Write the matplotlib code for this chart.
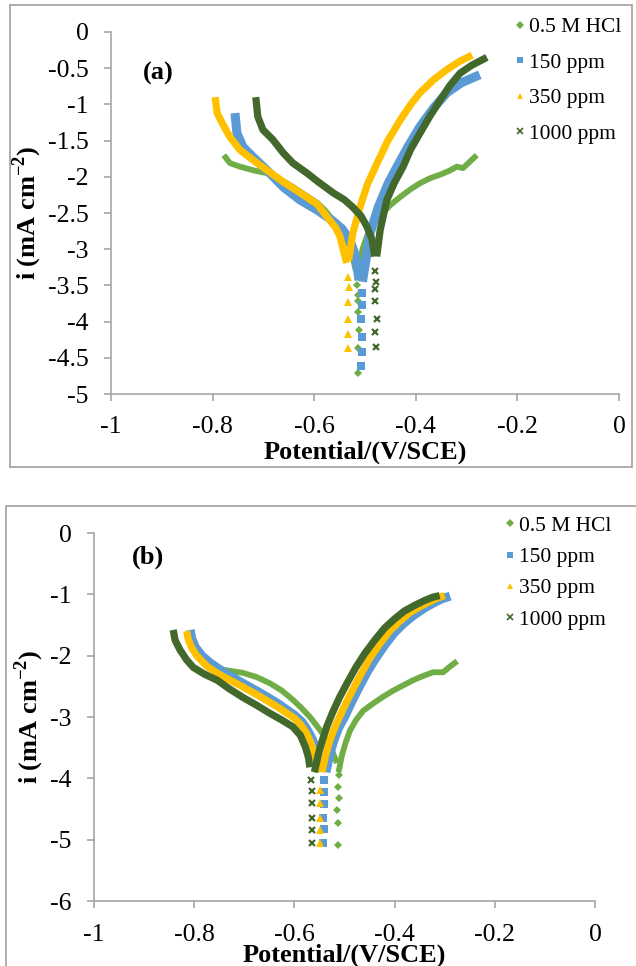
import numpy as np
import matplotlib as mpl
mpl.use('Agg')
import matplotlib.pyplot as plt
from matplotlib.lines import Line2D
from matplotlib.patches import Rectangle

# ---- data: potential (V/SCE), log current ----
labels = ['0.5 M HCl', '150 ppm', '350 ppm', '1000 ppm']
colors = ['#70AD47', '#5B9BD5', '#FFC000', '#43682B']
markers = ['D', 's', '^', 'x']

# panel (a)
a_hcl_cat_E = [-0.778, -0.766, -0.746, -0.720, -0.693, -0.670, -0.642, -0.618, -0.594, -0.578, -0.563, -0.548, -0.535, -0.526, -0.518]
a_hcl_cat_i = [-1.70, -1.81, -1.86, -1.91, -1.95, -2.02, -2.14, -2.25, -2.36, -2.47, -2.60, -2.73, -2.87, -3.05, -3.30]
a_hcl_tail_E = [-0.515, -0.514, -0.513, -0.513, -0.512, -0.513, -0.514]
a_hcl_tail_i = [-3.50, -3.63, -3.72, -3.87, -4.12, -4.36, -4.71]
a_hcl_an_E = [-0.512, -0.505, -0.495, -0.480, -0.465, -0.450, -0.431, -0.410, -0.392, -0.372, -0.352, -0.335, -0.319, -0.307, -0.295, -0.280]
a_hcl_an_i = [-3.30, -3.00, -2.80, -2.62, -2.50, -2.39, -2.28, -2.17, -2.09, -2.02, -1.97, -1.92, -1.86, -1.88, -1.80, -1.70]

a_150_cat_E = [-0.756, -0.752, -0.740, -0.720, -0.693, -0.661, -0.628, -0.594, -0.565, -0.545, -0.530, -0.518, -0.512]
a_150_cat_i = [-1.12, -1.40, -1.59, -1.73, -1.91, -2.14, -2.32, -2.46, -2.60, -2.72, -2.87, -3.10, -3.43]
a_150_tail_E = [-0.506, -0.506, -0.507, -0.506, -0.506, -0.507]
a_150_tail_i = [-3.61, -3.77, -3.96, -4.21, -4.42, -4.61]
a_150_an_E = [-0.505, -0.497, -0.490, -0.474, -0.455, -0.437, -0.415, -0.392, -0.365, -0.339, -0.310, -0.274]
a_150_an_i = [-3.45, -3.10, -2.78, -2.42, -2.10, -1.86, -1.58, -1.31, -1.05, -0.84, -0.70, -0.59]

a_350_cat_E = [-0.795, -0.791, -0.781, -0.766, -0.746, -0.720, -0.693, -0.661, -0.628, -0.594, -0.575, -0.558, -0.549, -0.543, -0.536]
a_350_cat_i = [-0.90, -1.12, -1.26, -1.45, -1.63, -1.77, -1.91, -2.07, -2.22, -2.38, -2.55, -2.70, -2.83, -3.00, -3.19]
a_350_tail_E = [-0.533, -0.532, -0.534, -0.533, -0.534, -0.533]
a_350_tail_i = [-3.38, -3.52, -3.73, -3.96, -4.17, -4.36]
a_350_an_E = [-0.532, -0.524, -0.510, -0.495, -0.476, -0.455, -0.431, -0.410, -0.392, -0.365, -0.339, -0.315, -0.289]
a_350_an_i = [-3.15, -2.78, -2.42, -2.10, -1.81, -1.50, -1.22, -1.00, -0.84, -0.66, -0.52, -0.41, -0.32]

a_1000_cat_E = [-0.715, -0.711, -0.701, -0.681, -0.661, -0.642, -0.614, -0.594, -0.563, -0.540, -0.524, -0.508, -0.496, -0.486, -0.481]
a_1000_cat_i = [-0.90, -1.17, -1.35, -1.49, -1.67, -1.81, -1.95, -2.06, -2.22, -2.32, -2.42, -2.54, -2.69, -2.87, -3.10]
a_1000_tail_E = [-0.480, -0.478, -0.481, -0.480, -0.476, -0.480, -0.478]
a_1000_tail_i = [-3.30, -3.45, -3.55, -3.72, -3.96, -4.14, -4.35]
a_1000_an_E = [-0.477, -0.470, -0.457, -0.442, -0.425, -0.410, -0.392, -0.372, -0.352, -0.333, -0.313, -0.290, -0.260]
a_1000_an_i = [-3.10, -2.73, -2.32, -2.08, -1.86, -1.62, -1.40, -1.16, -0.94, -0.74, -0.57, -0.46, -0.35]

# panel (b)
b_hcl_cat_E = [-0.775, -0.762, -0.735, -0.703, -0.675, -0.649, -0.625, -0.603, -0.585, -0.569, -0.549, -0.530, -0.515]
b_hcl_cat_i = [-2.20, -2.20, -2.24, -2.28, -2.35, -2.45, -2.57, -2.72, -2.86, -3.00, -3.21, -3.45, -3.75]
b_hcl_tail_E = [-0.511, -0.513, -0.511, -0.514, -0.513, -0.513]
b_hcl_tail_i = [-3.95, -4.14, -4.32, -4.51, -4.73, -5.09]
b_hcl_an_E = [-0.512, -0.505, -0.497, -0.489, -0.477, -0.463, -0.443, -0.423, -0.405, -0.389, -0.363, -0.343, -0.323, -0.303, -0.290, -0.275]
b_hcl_an_i = [-3.90, -3.62, -3.40, -3.22, -3.05, -2.90, -2.78, -2.67, -2.58, -2.51, -2.40, -2.33, -2.27, -2.27, -2.18, -2.09]

b_150_cat_E = [-0.808, -0.805, -0.798, -0.785, -0.768, -0.750, -0.735, -0.703, -0.670, -0.635, -0.600, -0.585, -0.575, -0.565, -0.558, -0.552, -0.549]
b_150_cat_i = [-1.58, -1.72, -1.86, -2.00, -2.12, -2.22, -2.30, -2.45, -2.60, -2.77, -2.97, -3.08, -3.20, -3.35, -3.50, -3.70, -3.90]
b_150_tail_E = [-0.541, -0.541, -0.541, -0.542, -0.541, -0.542]
b_150_tail_i = [-4.03, -4.23, -4.42, -4.65, -4.83, -5.06]
b_150_an_E = [-0.537, -0.530, -0.522, -0.512, -0.500, -0.485, -0.470, -0.455, -0.440, -0.420, -0.400, -0.380, -0.360, -0.340, -0.320, -0.305, -0.289]
b_150_an_i = [-3.90, -3.63, -3.40, -3.18, -3.00, -2.74, -2.50, -2.27, -2.07, -1.83, -1.62, -1.46, -1.33, -1.22, -1.13, -1.07, -1.03]

b_350_cat_E = [-0.815, -0.812, -0.805, -0.795, -0.775, -0.757, -0.740, -0.705, -0.670, -0.635, -0.600, -0.588, -0.577, -0.568, -0.562, -0.556, -0.553]
b_350_cat_i = [-1.60, -1.73, -1.87, -2.00, -2.17, -2.27, -2.35, -2.50, -2.66, -2.83, -3.02, -3.12, -3.25, -3.40, -3.55, -3.72, -3.90]
b_350_tail_E = [-0.549, -0.549, -0.549, -0.549, -0.549]
b_350_tail_i = [-4.19, -4.40, -4.65, -4.84, -5.06]
b_350_an_E = [-0.545, -0.538, -0.530, -0.520, -0.510, -0.495, -0.480, -0.465, -0.450, -0.430, -0.410, -0.390, -0.370, -0.350, -0.330, -0.315, -0.300]
b_350_an_i = [-3.90, -3.63, -3.40, -3.18, -3.00, -2.74, -2.50, -2.27, -2.05, -1.81, -1.60, -1.44, -1.30, -1.20, -1.12, -1.06, -1.02]

b_1000_cat_E = [-0.842, -0.838, -0.828, -0.815, -0.802, -0.780, -0.754, -0.730, -0.703, -0.675, -0.649, -0.625, -0.603, -0.588, -0.578, -0.572, -0.569]
b_1000_cat_i = [-1.58, -1.75, -1.91, -2.07, -2.19, -2.30, -2.40, -2.54, -2.68, -2.81, -2.94, -3.05, -3.16, -3.30, -3.49, -3.66, -3.82]
b_1000_tail_E = [-0.566, -0.565, -0.565, -0.564, -0.565, -0.565]
b_1000_tail_i = [-4.02, -4.21, -4.40, -4.65, -4.84, -5.06]
b_1000_an_E = [-0.560, -0.553, -0.545, -0.535, -0.525, -0.510, -0.495, -0.478, -0.460, -0.440, -0.420, -0.400, -0.380, -0.360, -0.340, -0.325, -0.310]
b_1000_an_i = [-3.90, -3.63, -3.40, -3.15, -2.95, -2.68, -2.45, -2.20, -1.97, -1.75, -1.55, -1.40, -1.27, -1.18, -1.10, -1.05, -1.02]

panel_a = [
	(a_hcl_cat_E, a_hcl_cat_i, a_hcl_tail_E, a_hcl_tail_i, a_hcl_an_E, a_hcl_an_i),
	(a_150_cat_E, a_150_cat_i, a_150_tail_E, a_150_tail_i, a_150_an_E, a_150_an_i),
	(a_350_cat_E, a_350_cat_i, a_350_tail_E, a_350_tail_i, a_350_an_E, a_350_an_i),
	(a_1000_cat_E, a_1000_cat_i, a_1000_tail_E, a_1000_tail_i, a_1000_an_E, a_1000_an_i),
]
panel_b = [
	(b_hcl_cat_E, b_hcl_cat_i, b_hcl_tail_E, b_hcl_tail_i, b_hcl_an_E, b_hcl_an_i),
	(b_150_cat_E, b_150_cat_i, b_150_tail_E, b_150_tail_i, b_150_an_E, b_150_an_i),
	(b_350_cat_E, b_350_cat_i, b_350_tail_E, b_350_tail_i, b_350_an_E, b_350_an_i),
	(b_1000_cat_E, b_1000_cat_i, b_1000_tail_E, b_1000_tail_i, b_1000_an_E, b_1000_an_i),
]

line_w = [4.2, 6.5, 5.2, 5.2]
tail_ms = [4.5, 5.5, 5.5, 4.5]

plt.rcParams['font.family'] = ['Liberation Serif', 'DejaVu Serif']
plt.rcParams['mathtext.fontset'] = 'custom'
plt.rcParams['mathtext.rm'] = 'Liberation Serif'
plt.rcParams['mathtext.bf'] = 'Liberation Serif:bold'
plt.rcParams['font.size'] = 18.5
grey = '#A6A6A6'

fig = plt.figure(figsize=(6.36, 9.66), dpi=100)

# frames around each chart
fig.patches.append(Rectangle((10/636, 1-467/966), 622/636, 462/966, transform=fig.transFigure,
		fill=False, edgecolor='#A0A0A0', lw=1.2))
fig.patches.append(Rectangle((6/636, -0.01), 640/636, 1-506/966+0.01, transform=fig.transFigure,
		fill=False, edgecolor='#A0A0A0', lw=1.2))


def draw(ax, data, ylim, yticks, ytl, tag, tagpos, legpos, lspace, xpad, xlpad):
	for k, (cE, ci, tE, ti, aE, ai) in enumerate(data):
		col = colors[k]
		ax.plot(cE, ci, color=col, lw=line_w[k], solid_capstyle='butt', solid_joinstyle='round', zorder=2+k)
		ax.plot(aE, ai, color=col, lw=line_w[k], solid_capstyle='butt', solid_joinstyle='round', zorder=2+k)
		mew = 1.6 if markers[k] == 'x' else 0
		ax.plot(tE, ti, ls='none', marker=markers[k], ms=tail_ms[k], color=col, mec=col, mew=mew, zorder=2+k)
	ax.set_xlim(-1, 0)
	ax.set_ylim(*ylim)
	ax.set_xticks([-1, -0.8, -0.6, -0.4, -0.2, 0])
	ax.set_xticklabels(['-1', '-0.8', '-0.6', '-0.4', '-0.2', '0'])
	ax.set_yticks(yticks)
	ax.set_yticklabels(ytl)
	for s in ['top', 'right']:
		ax.spines[s].set_visible(False)
	for s in ['left', 'bottom']:
		ax.spines[s].set_color(grey)
		ax.spines[s].set_linewidth(1.2)
	ax.tick_params(axis='both', direction='out', length=5, width=1.2, color=grey, labelsize=18.5)
	ax.tick_params(axis='x', pad=xpad)
	ax.tick_params(axis='y', pad=11)
	ax.set_xlabel('Potential/(V/SCE)', fontweight='bold', fontsize=19, labelpad=xlpad)
	ax.set_ylabel(r'i (mA cm$^{\mathbf{-2}}$)', fontweight='bold', fontsize=19, labelpad=3)
	ax.text(tagpos[0], tagpos[1], tag, transform=ax.transAxes, fontweight='bold', fontsize=19, ha='left', va='center')
	handles = [Line2D([], [], ls='none', marker=markers[k], color=colors[k], mec=colors[k],
		ms=4.5, mew=1.2 if markers[k] == 'x' else 0) for k in range(4)]
	ax.legend(handles, labels, loc='upper left', bbox_to_anchor=legpos, frameon=False,
		handlelength=0.4, handletextpad=0.2, labelspacing=lspace, borderaxespad=0, fontsize=15.5)


ax1 = fig.add_axes([111/636, 1-394/966, 508/636, 362/966])
draw(ax1, panel_a, (-5, 0), np.arange(-5, 0.01, 0.5),
	['-5', '-4.5', '-4', '-3.5', '-3', '-2.5', '-2', '-1.5', '-1', '-0.5', '0'],
	'(a)', (0.063, 0.885), (0.78, 1.065), 0.72, 11, 1.5)

ax2 = fig.add_axes([94/636, 1-901/966, 501/636, 368/966])
draw(ax2, panel_b, (-6, 0), np.arange(-6, 0.01, 1),
	['-6', '-5', '-4', '-3', '-2', '-1', '0'],
	'(b)', (0.075, 0.935), (0.805, 1.07), 0.52, 11.5, -1.5)

fig.savefig('out.png', dpi=100)
